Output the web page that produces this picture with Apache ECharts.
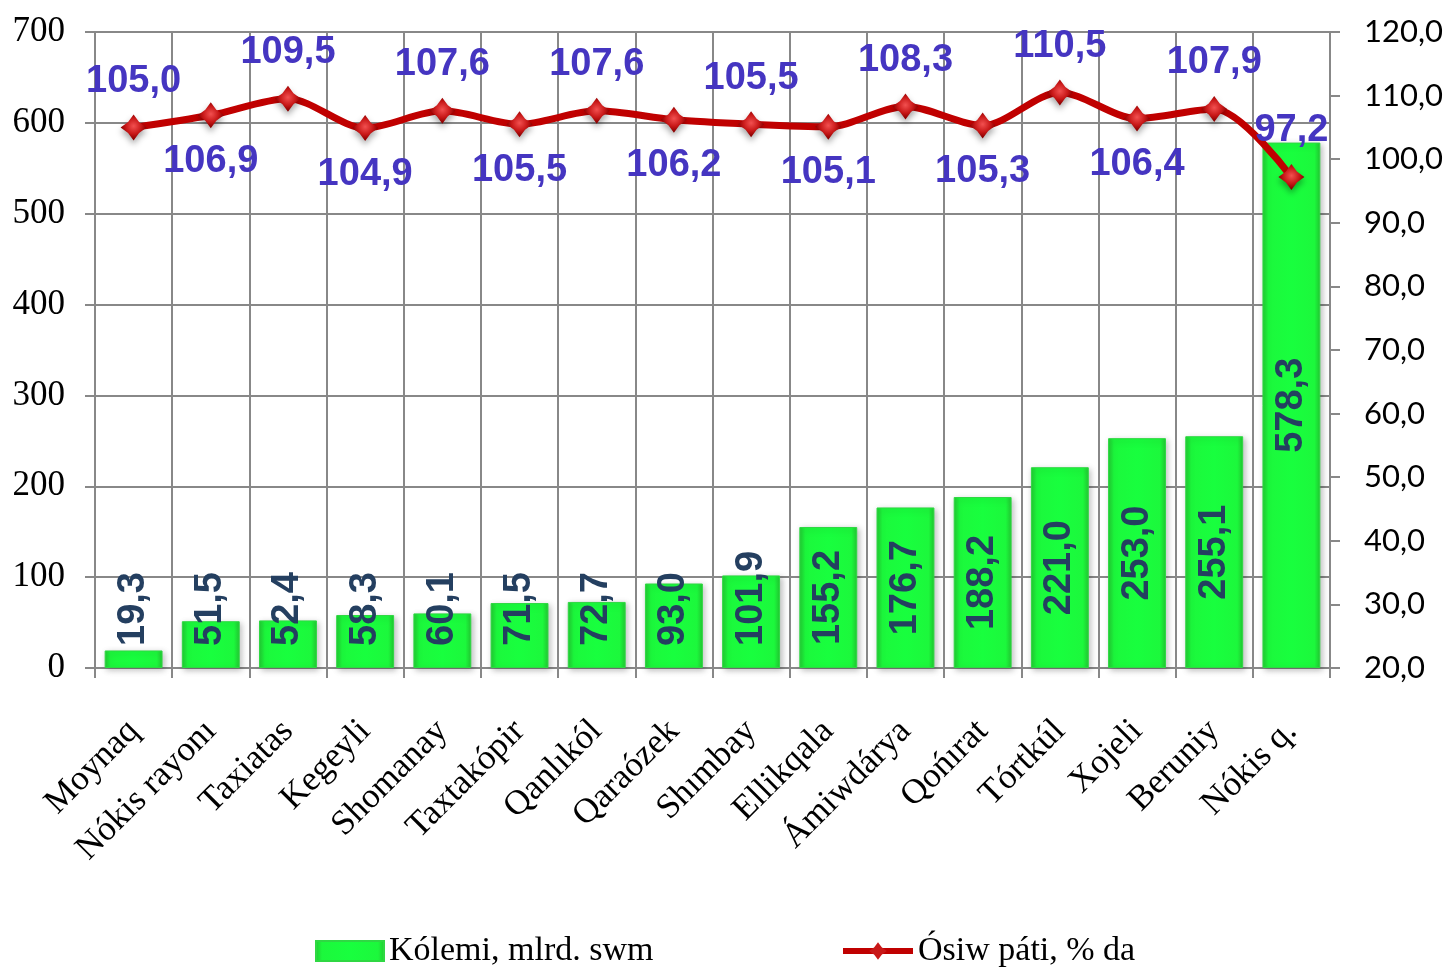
<!DOCTYPE html>
<html>
<head>
<meta charset="utf-8">
<script src="https://cdn.jsdelivr.net/npm/echarts@6/dist/echarts.min.js"></script>
<style>
html,body{margin:0;padding:0;background:#fff;}
#chart{width:1450px;height:967px;}
</style>
</head>
<body>
<div id="chart"></div>
<script>
const categories = ['Moynaq','Nókis rayonı','Taxiatas','Kegeyli','Shomanay','Taxtakópir','Qanlıkól','Qaraózek','Shımbay','Ellikqala','Ámiwdárya','Qońırat','Tórtkúl','Xojeli','Beruniy','Nókis q.'];
const volumeValues = [19.3, 51.5, 52.4, 58.3, 60.1, 71.5, 72.7, 93.0, 101.9, 155.2, 176.7, 188.2, 221.0, 253.0, 255.1, 578.3];
const growthValues = [105.0, 106.9, 109.5, 104.9, 107.6, 105.5, 107.6, 106.2, 105.5, 105.1, 108.3, 105.3, 110.5, 106.4, 107.9, 97.2];
const volumeName = 'Kólemi, mlrd. swm';
const growthName = 'Ósiw páti, % da';

const fmt = v => v.toFixed(1).replace('.', ',');

const barLabelBase = {
  show: true, rotate: 90, color: '#243F60', fontFamily: 'Liberation Sans, Arial, sans-serif',
  fontWeight: 'bold', fontSize: 38, formatter: p => fmt(p.value)
};

const barData = volumeValues.map(v => {
  const small = v < 150;
  return {
    value: v,
    label: small
      ? { position: 'insideBottom', distance: 22, align: 'left', verticalAlign: 'middle' }
      : { position: 'inside', align: 'center', verticalAlign: 'middle' }
  };
});

const lineData = growthValues.map((v, i) => {
  const top = (i % 2 === 0) || i === growthValues.length - 1;
  return { value: v, label: { position: top ? 'top' : 'bottom', distance: 14 } };
});

const starPath = 'path://M0,-13 L5.5,-5.5 L13,0 L5.5,5.5 L0,13 L-5.5,5.5 L-13,0 L-5.5,-5.5 Z';
const markerColor = new echarts.graphic.RadialGradient(0.5, 0.45, 0.5, [
  { offset: 0, color: '#F25050' },
  { offset: 0.6, color: '#C81818' },
  { offset: 1, color: '#8A0000' }
]);

const legendText = { fontFamily: 'Liberation Serif, Times New Roman, serif', fontSize: 34, color: '#000' };

const chart = echarts.init(document.getElementById('chart'), null, {renderer: 'canvas'});
chart.setOption({
  animation: false,
  backgroundColor: '#ffffff',
  grid: { left: 95, right: 120, top: 32, bottom: 299, containLabel: false },
  legend: [
    {
      left: 310, top: 929, itemWidth: 68, itemHeight: 20, itemGap: 8,
      textStyle: legendText,
      data: [{ name: volumeName, icon: 'rect' }]
    },
    {
      left: 835, top: 929, itemWidth: 70, itemHeight: 22, itemGap: 8,
      textStyle: legendText,
      data: [{ name: growthName, lineStyle: { width: 6, color: '#C00000' }, itemStyle: { color: '#C81818' } }]
    }
  ],
  xAxis: {
    type: 'category', data: categories, boundaryGap: true,
    axisLine: { show: true, lineStyle: { color: '#888', width: 2 } },
    axisTick: { show: true, length: 10, lineStyle: { color: '#888', width: 2 } },
    splitLine: { show: true, interval: 0, lineStyle: { color: '#888', width: 2 } },
    axisLabel: {
      interval: 0, rotate: 45, margin: 58, color: '#000',
      fontFamily: 'Liberation Serif, Times New Roman, serif', fontSize: 35
    }
  },
  yAxis: [
    {
      type: 'value', min: 0, max: 700, interval: 100, position: 'left',
      axisLine: { show: true, lineStyle: { color: '#888', width: 2 } },
      axisTick: { show: true, length: 10, lineStyle: { color: '#888', width: 2 } },
      splitLine: { show: true, lineStyle: { color: '#888', width: 2 } },
      axisLabel: { margin: 30, color: '#000', fontFamily: 'Liberation Serif, Times New Roman, serif', fontSize: 35 }
    },
    {
      type: 'value', min: 20, max: 120, interval: 10, position: 'right',
      axisLine: { show: true, lineStyle: { color: '#888', width: 2 } },
      axisTick: { show: true, length: 10, lineStyle: { color: '#888', width: 2 } },
      splitLine: { show: false },
      axisLabel: { margin: 34, color: '#000', fontFamily: 'Lato, Open Sans, sans-serif', fontSize: 31, formatter: v => fmt(v) }
    }
  ],
  series: [
    {
      name: volumeName, type: 'bar', yAxisIndex: 0, barWidth: '75%',
      data: barData,
      itemStyle: {
        color: new echarts.graphic.LinearGradient(0, 0, 1, 0, [
          { offset: 0, color: '#22C832' },
          { offset: 0.1, color: '#1CF83C' },
          { offset: 0.5, color: '#18FF3E' },
          { offset: 0.9, color: '#1CF83C' },
          { offset: 1, color: '#22C832' }
        ]),
        borderColor: '#2FD843', borderWidth: 1,
        shadowColor: 'rgba(0,0,0,0.25)', shadowBlur: 6, shadowOffsetX: 2, shadowOffsetY: 2
      },
      label: barLabelBase,
      z: 2
    },
    {
      name: growthName, type: 'line', yAxisIndex: 1, smooth: 0.3,
      data: lineData,
      lineStyle: { color: '#C00000', width: 7 },
      symbol: starPath,
      symbolSize: 26,
      itemStyle: {
        color: markerColor,
        shadowColor: 'rgba(0,0,0,0.35)', shadowBlur: 6, shadowOffsetY: 4
      },
      label: {
        show: true, color: '#4535C1', fontFamily: 'Liberation Sans, Arial, sans-serif',
        fontWeight: 'bold', fontSize: 38, formatter: p => fmt(p.value)
      },
      z: 5
    }
  ]
});
</script>
</body>
</html>
